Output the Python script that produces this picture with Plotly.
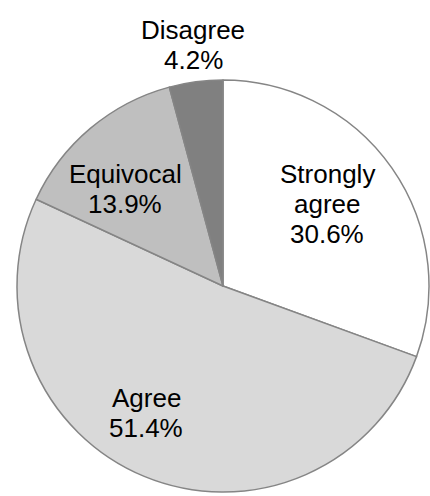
import plotly.graph_objects as go

# Survey response shares (percent), clockwise from 12 o'clock
categories = ["Strongly agree", "Agree", "Equivocal", "Disagree"]
label_lines = [["Strongly", "agree"], ["Agree"], ["Equivocal"], ["Disagree"]]
shares = [30.6, 51.4, 13.9, 4.2]
slice_colors = ["#ffffff", "#d9d9d9", "#bfbfbf", "#808080"]

# Figure geometry (pixels)
W, H = 430, 496
M = dict(l=16, r=0, t=80, b=4)
LINE_GAP = 30
# Label block anchors in pixel space: x centre, y of the first line's middle
label_anchor_px = [(327, 174), (146, 398), (125, 174), (193, 30)]

fig = go.Figure(
    go.Pie(
        labels=categories,
        values=shares,
        sort=False,
        direction="clockwise",
        rotation=0,
        marker=dict(colors=slice_colors, line=dict(color="#858585", width=1.5)),
        textinfo="none",
        automargin=False,
        showlegend=False,
        hoverinfo="label+value",
    )
)

plot_w = W - M["l"] - M["r"]
plot_h = H - M["t"] - M["b"]
for lines, value, (px, py) in zip(label_lines, shares, label_anchor_px):
    for i, line in enumerate(lines + [f"{value:.1f}%"]):
        fig.add_annotation(
            text=line,
            x=(px - M["l"]) / plot_w,
            y=(H - M["b"] - (py + i * LINE_GAP)) / plot_h,
            xref="paper",
            yref="paper",
            xanchor="center",
            yanchor="middle",
            showarrow=False,
            font=dict(family="Liberation Sans, Arial, sans-serif", size=26, color="#000000"),
        )

fig.update_layout(
    width=W,
    height=H,
    margin=M,
    paper_bgcolor="#ffffff",
    plot_bgcolor="#ffffff",
)

fig.write_html("out.html")
